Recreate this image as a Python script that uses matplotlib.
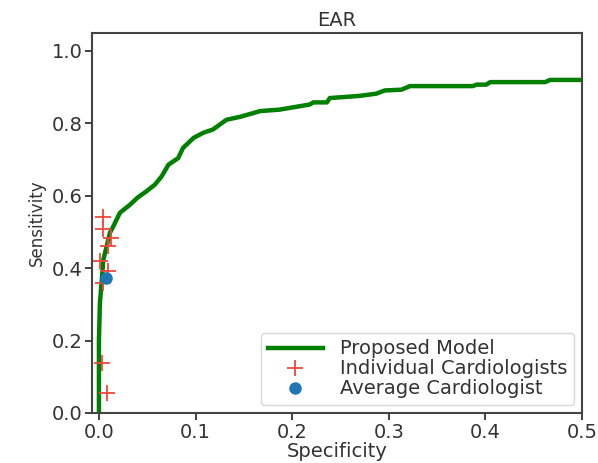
import matplotlib
matplotlib.use("Agg")
import matplotlib.pyplot as plt

# ROC curve of the proposed model (false positive rate, sensitivity)
model_fpr = [0.0, 0.0, 0.001, 0.003, 0.0045, 0.008, 0.0114, 0.0148, 0.0217,
             0.032, 0.040, 0.049, 0.058, 0.065, 0.072, 0.082, 0.087, 0.098,
             0.108, 0.118, 0.132, 0.146, 0.167, 0.187, 0.198, 0.218, 0.222,
             0.236, 0.239, 0.270, 0.287, 0.296, 0.313, 0.322, 0.387, 0.391,
             0.401, 0.405, 0.462, 0.467, 0.5]
model_tpr = [0.0, 0.20, 0.303, 0.368, 0.423, 0.46, 0.498, 0.515, 0.553,
             0.575, 0.595, 0.612, 0.631, 0.654, 0.686, 0.704, 0.732, 0.760,
             0.774, 0.783, 0.810, 0.818, 0.834, 0.838, 0.843, 0.852, 0.858,
             0.858, 0.870, 0.876, 0.882, 0.891, 0.893, 0.903, 0.903, 0.907,
             0.907, 0.914, 0.914, 0.920, 0.920]

# individual cardiologists
card_fpr = [0.0045, 0.0045, 0.013, 0.009, 0.001, 0.009, 0.004, 0.003, 0.008]
card_tpr = [0.541, 0.508, 0.483, 0.460, 0.421, 0.391, 0.360, 0.139, 0.054]

# average cardiologist
avg_fpr = [0.007]
avg_tpr = [0.373]

fig = plt.figure(figsize=(5.98, 4.63), dpi=100)
ax = fig.add_axes([0.1538, 0.108, 0.9732 - 0.1538, 0.929 - 0.108])

ax.plot(model_fpr, model_tpr, color="green", linewidth=3.2, label="Proposed Model")
ax.plot(card_fpr, card_tpr, linestyle="none", marker="+", markersize=11,
        markeredgewidth=1.3, color="#f0463c", label="Individual Cardiologists")
ax.plot(avg_fpr, avg_tpr, linestyle="none", marker="o", markersize=8,
        color="#1f77b4", label="Average Cardiologist")

ax.set_xlim(-0.0072, 0.5)
ax.set_ylim(0, 1.05)
ax.set_xticks([0.0, 0.1, 0.2, 0.3, 0.4, 0.5])
ax.set_yticks([0.0, 0.2, 0.4, 0.6, 0.8, 1.0])

ax.set_title("EAR", fontsize=14, color="#333333", pad=5)
ax.set_xlabel("Specificity", fontsize=14, color="#333333", labelpad=0)
ax.set_ylabel("Sensitivity", fontsize=12, color="#333333")
ax.tick_params(labelsize=14, length=5, width=1.3, pad=2, colors="#333333")
for sp in ax.spines.values():
    sp.set_linewidth(1.5)
    sp.set_color("#444444")

ax.legend(loc="lower right", fontsize=14, handlelength=2.8,
          labelspacing=0.05, borderpad=0.35, handletextpad=0.9,
          borderaxespad=0.4, labelcolor="#333333")

fig.savefig("out.png", dpi=100, facecolor="white")
